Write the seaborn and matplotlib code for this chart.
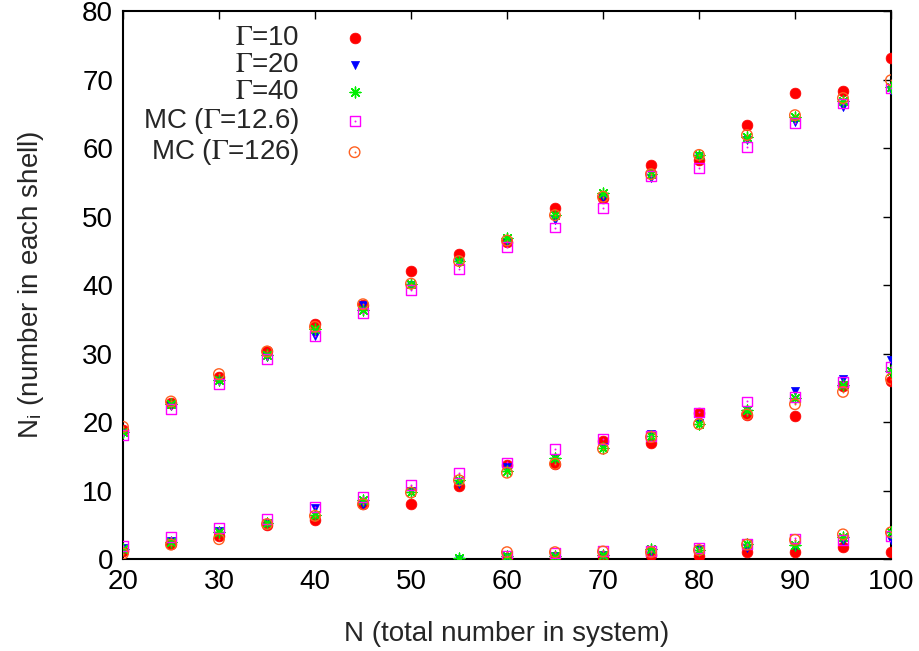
import numpy as np
import pandas as pd
import matplotlib
matplotlib.use("Agg")
import matplotlib.pyplot as plt
import seaborn as sns
from matplotlib.legend_handler import HandlerTuple

nan = np.nan

# total number of particles in the system
n_total = [20, 25, 30, 35, 40, 45, 50, 55, 60, 65, 70, 75, 80, 85, 90, 95, 100]

# outer shell
g10_outer = [18.9, 22.8, 26.6, 30.3, 34.3, 37.1, 42.0, 44.5, 46.3, 51.3, 52.7, 57.5, 58.3, 63.3, 68.1, 68.4, 73.2]
g20_outer = [18.4, 22.4, 26.0, 29.5, 32.5, 37.1, 40.0, 43.2, 46.3, 49.5, 52.7, 55.6, 58.8, 61.2, 63.8, 66.0, 68.5]
g40_outer = [18.6, 22.7, 26.2, 29.8, 33.6, 36.4, 40.2, 43.5, 46.8, 50.2, 53.4, 56.2, 59.0, 61.6, 64.6, 66.8, 68.9]
mc12_outer = [18.1, 21.9, 25.6, 29.2, 32.5, 35.9, 39.3, 42.4, 45.6, 48.4, 51.3, 55.9, 57.1, 60.2, 63.7, 66.5, 68.7]
mc126_outer = [19.3, 23.0, 27.0, 30.3, 33.9, 37.2, 40.2, 43.5, 46.5, 50.2, 52.9, 56.2, 59.0, 61.9, 64.8, 67.3, 69.9]

# second shell
g10_mid = [1.2, 2.2, 3.3, 4.9, 5.7, 8.1, 8.0, 10.6, 13.7, 13.8, 17.2, 16.9, 21.3, 21.0, 20.9, 25.2, 26.0]
g20_mid = [1.6, 2.7, 4.1, 5.3, 7.4, 7.9, 10.0, 11.0, 13.4, 14.7, 16.4, 18.2, 19.8, 21.8, 24.5, 26.3, 29.0]
g40_mid = [1.5, 2.5, 3.9, 5.3, 6.4, 8.6, 9.8, 11.5, 12.9, 14.7, 16.2, 17.9, 19.7, 21.8, 23.5, 25.4, 27.4]
mc12_mid = [1.9, 3.2, 4.5, 5.8, 7.6, 9.1, 10.8, 12.6, 14.1, 16.1, 17.5, 18.0, 21.4, 23.0, 23.7, 25.9, 28.0]
mc126_mid = [0.8, 2.1, 2.9, 5.1, 6.3, 8.0, 9.7, 11.5, 12.6, 13.9, 16.1, 17.8, 19.7, 21.1, 22.6, 24.4, 26.3]

# inner shell (empty for small N)
g10_in = [nan, nan, nan, nan, nan, nan, nan, nan, 0.1, 0.1, 0.3, 0.6, 0.5, 1.0, 1.0, 1.7, 1.0]
g20_in = [nan, nan, nan, nan, nan, nan, nan, 0.05, 0.3, 0.4, 0.6, 1.0, 1.4, 1.6, 1.8, 2.6, 2.8]
g40_in = [nan, nan, nan, nan, nan, nan, nan, 0.1, 0.4, 0.5, 0.6, 1.4, 1.3, 2.2, 2.0, 3.2, 4.0]
mc12_in = [nan, nan, nan, nan, nan, nan, nan, nan, 0.4, 0.9, 1.2, 1.2, 1.6, 2.2, 3.0, 2.8, 3.4]
mc126_in = [nan, nan, nan, nan, nan, nan, nan, nan, 1.0, 1.0, 1.1, 1.0, 1.3, 2.1, 2.8, 3.6, 3.9]

labels = [r"$\Gamma$=10", r"$\Gamma$=20", r"$\Gamma$=40", r"MC ($\Gamma$=12.6)", r"MC ($\Gamma$=126)"]
shells = [
    (g10_outer, g10_mid, g10_in),
    (g20_outer, g20_mid, g20_in),
    (g40_outer, g40_mid, g40_in),
    (mc12_outer, mc12_mid, mc12_in),
    (mc126_outer, mc126_mid, mc126_in),
]

rows = []
for lab, (o, m, i) in zip(labels, shells):
    for vals in (o, m, i):
        for n, v in zip(n_total, vals):
            rows.append({"series": lab, "N": n, "Ni": v})
df = pd.DataFrame(rows).dropna()

sns.set_style("white")
plt.rcParams["font.family"] = ["Liberation Sans", "DejaVu Sans"]
plt.rcParams["mathtext.fontset"] = "stix"

FS = 20

fig = plt.figure(figsize=(9.19, 6.51), dpi=100)
ax = fig.add_axes([0.1338, 0.1413, 0.8357, 0.8417])

# marker styles, gnuplot-like
styles = {
    labels[0]: dict(marker="o", color="#ff0000", s=60, filled=True, dot=False),
    labels[1]: dict(marker="v", color="#0000ff", s=34, filled=True, dot=False),
    labels[2]: dict(marker=(8, 2, 0), color="#00ee00", s=60, filled=False, dot=False),
    labels[3]: dict(marker="s", color="#ff00ff", s=50, filled=False, dot=True),
    labels[4]: dict(marker="o", color="#ff6020", s=58, filled=False, dot=True),
}

handles = []
for lab in labels:
    st = styles[lab]
    d = df[df["series"] == lab]
    if st["filled"]:
        sns.scatterplot(data=d, x="N", y="Ni", ax=ax, marker=st["marker"], color=st["color"],
                        s=st["s"], edgecolor=st["color"], linewidth=0.5, zorder=3)
    elif st["marker"] in ("s", "o"):
        sns.scatterplot(data=d, x="N", y="Ni", ax=ax, marker=st["marker"], facecolor="none",
                        edgecolor=st["color"], s=st["s"], linewidth=1.0, zorder=3)
    else:
        sns.scatterplot(data=d, x="N", y="Ni", ax=ax, marker=st["marker"], color=st["color"],
                        s=st["s"], linewidth=1.0, zorder=3)
    h = ax.collections[-1]
    if st["dot"]:
        sns.scatterplot(data=d, x="N", y="Ni", ax=ax, marker="o", color=st["color"],
                        s=2, linewidth=0, zorder=3)
        handles.append((h, ax.collections[-1]))
    else:
        handles.append(h)

ax.set_xlim(20, 100)
ax.set_ylim(0, 80)
ax.set_xticks(range(20, 101, 10))
ax.set_yticks(range(0, 81, 10))
ax.tick_params(direction="in", top=True, right=True, length=6, width=1, labelsize=FS, pad=7, colors="black")
for sp in ax.spines.values():
    sp.set_visible(True)
    sp.set_color("black")
    sp.set_linewidth(1.5)

ax.set_xlabel("N (total number in system)", fontsize=FS, labelpad=19)
ax.set_ylabel(r"N$_\mathregular{i}$ (number in each shell)", fontsize=FS, labelpad=26)

ax.legend(handles, labels, handler_map={tuple: HandlerTuple(ndivide=1)},
          loc="upper right", bbox_to_anchor=(0.345, 1.01), frameon=False,
          markerfirst=False, fontsize=FS, handlelength=1.0, handletextpad=1.5,
          labelspacing=0.04, borderpad=0.2)

fig.savefig("out.png", dpi=100)
